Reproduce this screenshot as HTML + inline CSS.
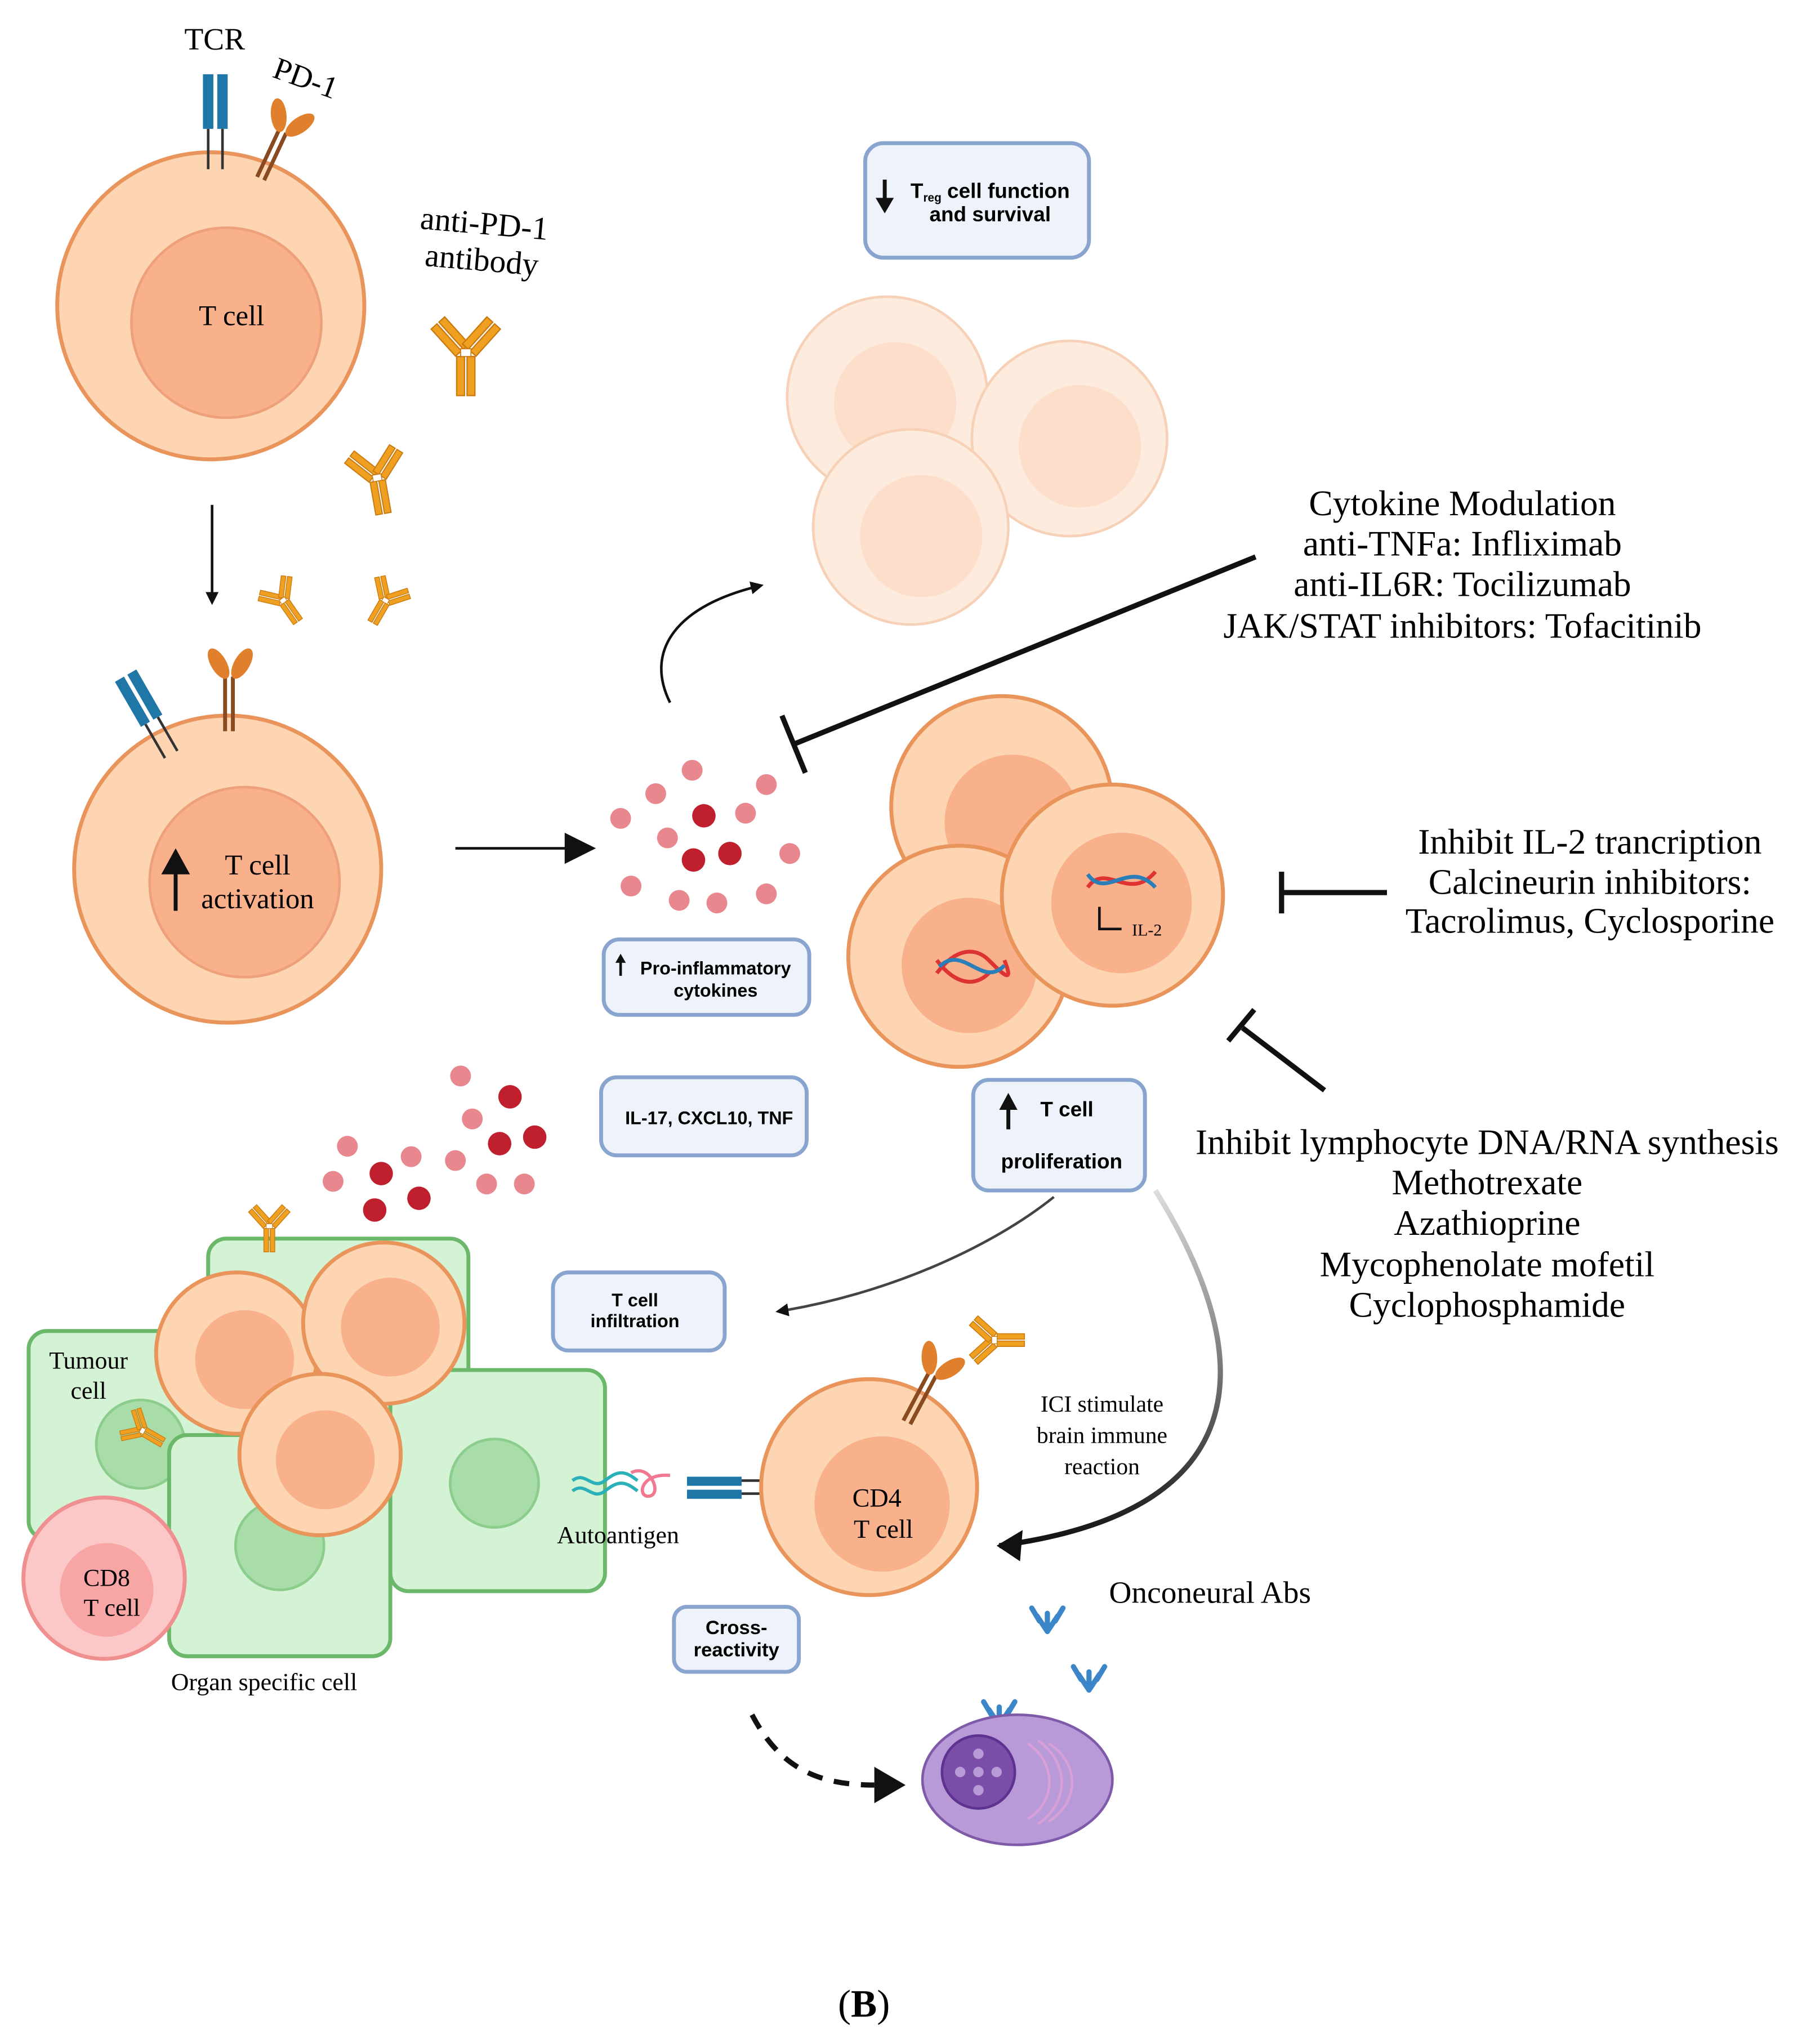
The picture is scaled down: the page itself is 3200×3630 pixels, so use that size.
<!DOCTYPE html>
<html><head><meta charset="utf-8"><style>html,body{margin:0;padding:0;background:#fff}svg{display:block}</style></head><body>
<svg width="3200" height="3630" viewBox="0 0 1385 1571" xmlns="http://www.w3.org/2000/svg" font-family="Liberation Serif, serif">
<defs>
<marker id="ah" markerWidth="10" markerHeight="10" refX="8" refY="5" orient="auto" markerUnits="userSpaceOnUse"><path d="M0,0 L10,5 L0,10 z" fill="#111"/></marker>
<marker id="ahb" markerWidth="26" markerHeight="24" refX="22" refY="12" orient="auto" markerUnits="userSpaceOnUse"><path d="M0,0 L24,12 L0,24 z" fill="#111"/></marker>
<linearGradient id="gfade" x1="0" y1="0" x2="0" y2="1"><stop offset="0" stop-color="#ddd"/><stop offset="1" stop-color="#111"/></linearGradient>
<g id="ab"><g fill="#f0a020" stroke="#c97a10" stroke-width="1">
<g transform="rotate(-42)"><rect x="-7" y="-32" width="6" height="28"/><rect x="1" y="-32" width="6" height="28"/></g>
<g transform="rotate(42)"><rect x="-7" y="-32" width="6" height="28"/><rect x="1" y="-32" width="6" height="28"/></g>
<rect x="-7" y="2" width="6" height="30"/><rect x="1" y="2" width="6" height="30"/></g>
<rect x="-4" y="-4" width="8" height="6" fill="#fff" stroke="#c97a10" stroke-width="0.8"/></g>
<g id="bab" fill="none" stroke="#3a86c8" stroke-width="4" stroke-linecap="round"><path d="M0,0 V14 M0,14 L-8,2 M0,14 L8,2 M-12,-4 L-6,6 M12,-4 L6,6"/></g>
</defs>

<!-- Top T cell -->
<circle cx="162" cy="235" r="118" fill="#fdd5b3" stroke="#e9945a" stroke-width="3"/>
<circle cx="174" cy="248" r="73" fill="#f9b18c" stroke="#eea07a" stroke-width="2"/>
<text x="178" y="250" font-size="22" text-anchor="middle">T cell</text>
<g fill="#1f77a8"><rect x="156" y="57" width="8" height="42"/><rect x="167" y="57" width="8" height="42"/></g>
<path d="M160,99 V130 M171,99 V130" stroke="#333" stroke-width="2"/>
<g transform="translate(213,110) rotate(25)"><path d="M-3,-10 V30 M3,-10 V30" stroke="#8a4a20" stroke-width="3"/><ellipse cx="-8" cy="-20" rx="6" ry="13" fill="#e0802c" transform="rotate(-30 -8 -20)"/><ellipse cx="10" cy="-20" rx="6" ry="13" fill="#e0802c" transform="rotate(30 10 -20)"/></g>
<text x="165" y="38" font-size="24" text-anchor="middle">TCR</text>
<text x="235" y="68" font-size="24" text-anchor="middle" transform="rotate(20 235 60)">PD-1</text>
<text x="372" y="180" font-size="25" text-anchor="middle" transform="rotate(5 372 175)">anti-PD-1</text>
<text x="370" y="208" font-size="25" text-anchor="middle" transform="rotate(5 370 203)">antibody</text>
<use href="#ab" transform="translate(358,272)"/>
<use href="#ab" transform="translate(290,368) scale(0.85) rotate(-10)"/>
<use href="#ab" transform="translate(218,462) scale(0.6) rotate(-35)"/>
<use href="#ab" transform="translate(296,462) scale(0.6) rotate(30)"/>

<!-- arrow down -->
<line x1="163" y1="388" x2="163" y2="463" stroke="#111" stroke-width="2" marker-end="url(#ah)"/>

<!-- second T cell -->
<circle cx="175" cy="668" r="118" fill="#fdd5b3" stroke="#e9945a" stroke-width="3"/>
<circle cx="188" cy="678" r="73" fill="#f9b18c" stroke="#eea07a" stroke-width="2"/>
<text x="198" y="672" font-size="22" text-anchor="middle">T cell</text>
<text x="198" y="698" font-size="22" text-anchor="middle">activation</text>
<path d="M135,700 V668" stroke="#111" stroke-width="3"/><path d="M124,672 L135,652 L146,672 z" fill="#111"/>
<g transform="translate(112,545) rotate(-30)"><rect x="-10" y="-30" width="8" height="40" fill="#1f77a8"/><rect x="1" y="-30" width="8" height="40" fill="#1f77a8"/><path d="M-6,10 V40 M5,10 V40" stroke="#333" stroke-width="2"/></g>
<g transform="translate(176,530)"><path d="M-3,-10 V32 M3,-10 V32" stroke="#8a4a20" stroke-width="3"/><ellipse cx="-8" cy="-20" rx="6" ry="13" fill="#e0802c" transform="rotate(-30 -8 -20)"/><ellipse cx="10" cy="-20" rx="6" ry="13" fill="#e0802c" transform="rotate(30 10 -20)"/></g>

<line x1="350" y1="652" x2="456" y2="652" stroke="#111" stroke-width="2" marker-end="url(#ahb)"/>

<!-- cytokines -->
<g fill="#e9878f"><circle cx="532" cy="592" r="8"/><circle cx="504" cy="610" r="8"/><circle cx="589" cy="603" r="8"/><circle cx="477" cy="629" r="8"/><circle cx="573" cy="625" r="8"/><circle cx="513" cy="644" r="8"/><circle cx="607" cy="656" r="8"/><circle cx="485" cy="681" r="8"/><circle cx="522" cy="692" r="8"/><circle cx="551" cy="694" r="8"/><circle cx="589" cy="687" r="8"/></g>
<g fill="#c0202e"><circle cx="541" cy="627" r="9"/><circle cx="533" cy="661" r="9"/><circle cx="561" cy="656" r="9"/></g>

<path d="M515,540 C495,500 520,465 585,450" fill="none" stroke="#111" stroke-width="2" marker-end="url(#ah)"/>

<!-- Treg box -->
<rect x="665" y="110" width="172" height="88" rx="14" fill="#eef3fb" stroke="#8aa4d0" stroke-width="3"/>
<path d="M680,138 V155" stroke="#111" stroke-width="3"/><path d="M673,152 L680,164 L687,152 z" fill="#111"/>
<text x="761" y="152" font-family="Liberation Sans, sans-serif" font-weight="bold" font-size="16" text-anchor="middle">T<tspan font-size="9" dy="3">reg</tspan><tspan dy="-3"> cell function</tspan></text>
<text x="761" y="170" font-family="Liberation Sans, sans-serif" font-weight="bold" font-size="16" text-anchor="middle">and survival</text>

<g opacity="0.6"><circle cx="682" cy="305" r="77" fill="#fde0c8" stroke="#f2b488" stroke-width="2"/><circle cx="688" cy="310" r="47" fill="#fbc9a8"/><circle cx="822" cy="337" r="75" fill="#fde0c8" stroke="#f2b488" stroke-width="2"/><circle cx="830" cy="343" r="47" fill="#fbc9a8"/><circle cx="700" cy="405" r="75" fill="#fde0c8" stroke="#f2b488" stroke-width="2"/><circle cx="708" cy="412" r="47" fill="#fbc9a8"/></g>

<!-- cytokine modulation -->
<line x1="965" y1="428" x2="610" y2="572" stroke="#111" stroke-width="4"/>
<line x1="601" y1="550" x2="619" y2="594" stroke="#111" stroke-width="4"/>
<g font-size="27.5" text-anchor="middle"><text x="1124" y="396">Cytokine Modulation</text><text x="1124" y="427">anti-TNFa: Infliximab</text><text x="1124" y="458">anti-IL6R: Tocilizumab</text><text x="1124" y="490">JAK/STAT inhibitors: Tofacitinib</text></g>

<!-- proliferating cells -->
<circle cx="770" cy="620" r="85" fill="#fdd5b3" stroke="#e9945a" stroke-width="3"/><circle cx="778" cy="632" r="52" fill="#f9b18c"/>
<circle cx="737" cy="735" r="85" fill="#fdd5b3" stroke="#e9945a" stroke-width="3"/><circle cx="745" cy="742" r="52" fill="#f9b18c"/>
<circle cx="855" cy="688" r="85" fill="#fdd5b3" stroke="#e9945a" stroke-width="3"/><circle cx="862" cy="694" r="54" fill="#f9b18c"/>
<path d="M720,748 C735,728 750,728 760,738 S780,758 772,738 M720,738 C735,758 750,758 760,748" fill="none" stroke="#d33" stroke-width="3"/>
<path d="M722,743 C740,725 755,760 772,742" fill="none" stroke="#2a7fb8" stroke-width="3"/>
<path d="M836,682 C850,662 868,694 888,670" fill="none" stroke="#d33" stroke-width="3"/>
<path d="M836,672 C850,692 868,660 888,682" fill="none" stroke="#2a7fb8" stroke-width="3"/>
<path d="M845,697 V714 H862" fill="none" stroke="#111" stroke-width="2"/>
<text x="870" y="719" font-size="13">IL-2</text>

<line x1="1066" y1="686" x2="985" y2="686" stroke="#111" stroke-width="4"/><line x1="985" y1="670" x2="985" y2="702" stroke="#111" stroke-width="4"/>
<g font-size="27.5" text-anchor="middle"><text x="1222" y="656">Inhibit IL-2 trancription</text><text x="1222" y="687">Calcineurin inhibitors:</text><text x="1222" y="717">Tacrolimus, Cyclosporine</text></g>

<line x1="1018" y1="838" x2="955" y2="790" stroke="#111" stroke-width="4"/><line x1="944" y1="800" x2="964" y2="776" stroke="#111" stroke-width="4"/>
<g font-size="27.5" text-anchor="middle"><text x="1143" y="887">Inhibit lymphocyte DNA/RNA synthesis</text><text x="1143" y="918">Methotrexate</text><text x="1143" y="949">Azathioprine</text><text x="1143" y="981">Mycophenolate mofetil</text><text x="1143" y="1012">Cyclophosphamide</text></g>

<!-- boxes -->
<g font-family="Liberation Sans, sans-serif" font-weight="bold" text-anchor="middle">
<rect x="464" y="722" width="158" height="58" rx="12" fill="#eef3fb" stroke="#8aa4d0" stroke-width="3"/>
<text x="550" y="749" font-size="14">Pro-inflammatory</text><text x="550" y="766" font-size="14">cytokines</text>
<path d="M477,750 V738" stroke="#111" stroke-width="2"/><path d="M473,740 L477,733 L481,740 z" fill="#111"/>
<rect x="462" y="828" width="158" height="60" rx="12" fill="#eef3fb" stroke="#8aa4d0" stroke-width="3"/>
<text x="545" y="864" font-size="14">IL-17, CXCL10, TNF</text>
<rect x="748" y="830" width="132" height="85" rx="12" fill="#eef3fb" stroke="#8aa4d0" stroke-width="3"/>
<text x="820" y="858" font-size="16">T cell</text><text x="816" y="898" font-size="16">proliferation</text>
<path d="M775,868 V850" stroke="#111" stroke-width="3"/><path d="M768,853 L775,840 L782,853 z" fill="#111"/>
<rect x="425" y="978" width="132" height="60" rx="12" fill="#eef3fb" stroke="#8aa4d0" stroke-width="3"/>
<text x="488" y="1004" font-size="14">T cell</text><text x="488" y="1020" font-size="14">infiltration</text>
<rect x="518" y="1235" width="96" height="50" rx="10" fill="#eef3fb" stroke="#8aa4d0" stroke-width="3"/>
<text x="566" y="1256" font-size="15">Cross-</text><text x="566" y="1273" font-size="15">reactivity</text>
</g>

<path d="M810,920 C760,960 680,995 598,1008" fill="none" stroke="#444" stroke-width="2" marker-end="url(#ah)"/>
<path d="M888,915 C960,1030 980,1160 768,1188" fill="none" stroke="url(#gfade)" stroke-width="4"/>
<path d="M766,1188 L786,1176 L784,1200 z" fill="#111"/>

<!-- bottom cytokines -->
<g fill="#e9878f"><circle cx="354" cy="827" r="8"/><circle cx="363" cy="860" r="8"/><circle cx="267" cy="881" r="8"/><circle cx="316" cy="889" r="8"/><circle cx="350" cy="892" r="8"/><circle cx="256" cy="908" r="8"/><circle cx="374" cy="910" r="8"/><circle cx="403" cy="910" r="8"/></g>
<g fill="#c0202e"><circle cx="392" cy="843" r="9"/><circle cx="384" cy="879" r="9"/><circle cx="411" cy="874" r="9"/><circle cx="293" cy="902" r="9"/><circle cx="322" cy="921" r="9"/><circle cx="288" cy="930" r="9"/></g>

<!-- green cells -->
<rect x="160" y="952" width="200" height="220" rx="14" fill="#d4f2d4" stroke="#6bb86b" stroke-width="3"/>
<rect x="22" y="1023" width="200" height="160" rx="14" fill="#d4f2d4" stroke="#6bb86b" stroke-width="3"/>
<circle cx="108" cy="1110" r="34" fill="#a8dca8" stroke="#8ccc8c" stroke-width="2"/>
<rect x="300" y="1053" width="165" height="170" rx="14" fill="#d4f2d4" stroke="#6bb86b" stroke-width="3"/>
<circle cx="380" cy="1140" r="34" fill="#a8dca8" stroke="#8ccc8c" stroke-width="2"/>
<rect x="130" y="1103" width="170" height="170" rx="14" fill="#d4f2d4" stroke="#6bb86b" stroke-width="3"/>
<circle cx="215" cy="1188" r="34" fill="#a8dca8" stroke="#8ccc8c" stroke-width="2"/>
<use href="#ab" transform="translate(207,943) scale(0.6)"/>
<use href="#ab" transform="translate(110,1100) scale(0.55) rotate(-60)"/>
<circle cx="182" cy="1040" r="62" fill="#fdd5b3" stroke="#e9945a" stroke-width="3"/><circle cx="188" cy="1045" r="38" fill="#f9b18c"/>
<circle cx="295" cy="1017" r="62" fill="#fdd5b3" stroke="#e9945a" stroke-width="3"/><circle cx="300" cy="1020" r="38" fill="#f9b18c"/>
<circle cx="246" cy="1118" r="62" fill="#fdd5b3" stroke="#e9945a" stroke-width="3"/><circle cx="250" cy="1122" r="38" fill="#f9b18c"/>
<circle cx="80" cy="1213" r="62" fill="#fbc7c7" stroke="#ef8f8f" stroke-width="3"/><circle cx="82" cy="1222" r="36" fill="#f7a5a5"/>
<g font-size="19" text-anchor="middle"><text x="68" y="1052">Tumour</text><text x="68" y="1075">cell</text><text x="82" y="1219">CD8</text><text x="86" y="1242">T cell</text><text x="203" y="1299">Organ specific cell</text><text x="475" y="1186">Autoantigen</text></g>

<!-- autoantigen + TCR -->
<path d="M440,1138 C450,1130 455,1146 465,1138 S480,1130 490,1138 M440,1146 C450,1138 455,1154 465,1146 S480,1138 490,1146" fill="none" stroke="#2ab0b8" stroke-width="2.5"/>
<path d="M485,1132 C500,1124 510,1150 498,1150 C490,1150 492,1132 515,1134" fill="none" stroke="#f07890" stroke-width="2.5"/>
<g fill="#1f77a8"><rect x="528" y="1135" width="42" height="7"/><rect x="528" y="1145" width="42" height="7"/></g>
<path d="M570,1138 H605 M570,1148 H605" stroke="#333" stroke-width="2"/>

<!-- CD4 -->
<circle cx="668" cy="1143" r="83" fill="#fdd5b3" stroke="#e9945a" stroke-width="3"/>
<circle cx="678" cy="1156" r="52" fill="#f9b18c"/>
<g font-size="20" text-anchor="middle"><text x="674" y="1158">CD4</text><text x="679" y="1182">T cell</text></g>
<g transform="translate(712,1065) rotate(28)"><path d="M-3,-10 V32 M3,-10 V32" stroke="#8a4a20" stroke-width="3"/><ellipse cx="-8" cy="-20" rx="6" ry="13" fill="#e0802c" transform="rotate(-30 -8 -20)"/><ellipse cx="10" cy="-20" rx="6" ry="13" fill="#e0802c" transform="rotate(30 10 -20)"/></g>
<use href="#ab" transform="translate(765,1030) scale(0.7) rotate(-90)"/>
<g font-size="18" text-anchor="middle"><text x="847" y="1085">ICI stimulate</text><text x="847" y="1109">brain immune</text><text x="847" y="1133">reaction</text></g>
<text x="930" y="1232" font-size="24" text-anchor="middle">Onconeural Abs</text>
<use href="#bab" transform="translate(805,1240)"/>
<use href="#bab" transform="translate(837,1285)"/>
<use href="#bab" transform="translate(768,1312)"/>

<!-- neuron -->
<ellipse cx="782" cy="1368" rx="73" ry="50" fill="#b99ad8" stroke="#7e5aa8" stroke-width="2"/>
<circle cx="752" cy="1362" r="28" fill="#7a4ea8" stroke="#5e3290" stroke-width="2"/>
<g fill="#b99ad8"><circle cx="752" cy="1348" r="4"/><circle cx="766" cy="1362" r="4"/><circle cx="752" cy="1376" r="4"/><circle cx="738" cy="1362" r="4"/><circle cx="752" cy="1362" r="4"/></g>
<g fill="none" stroke="#d8a0d8" stroke-width="2"><path d="M790,1340 C812,1355 812,1385 790,1398"/><path d="M798,1338 C822,1355 822,1385 798,1402"/><path d="M806,1340 C830,1355 830,1385 806,1400"/></g>

<path d="M578,1318 C600,1360 630,1372 672,1372" fill="none" stroke="#111" stroke-width="4" stroke-dasharray="12,9"/>
<path d="M696,1372 L672,1358 L672,1386 z" fill="#111"/>

<text x="664" y="1550" font-size="30" font-weight="bold" text-anchor="middle"><tspan font-weight="normal">(</tspan>B<tspan font-weight="normal">)</tspan></text>
</svg>
</body></html>
